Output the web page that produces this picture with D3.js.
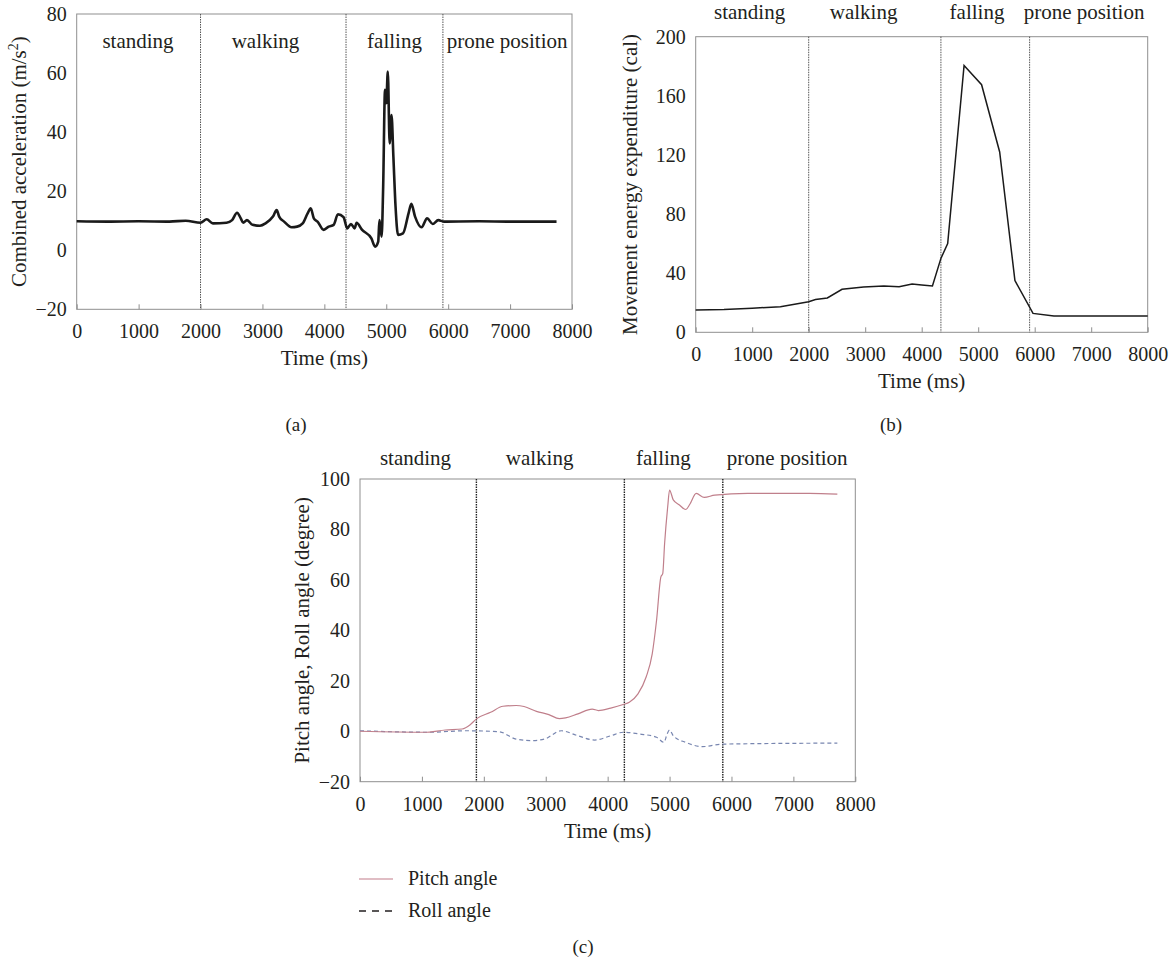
<!DOCTYPE html>
<html>
<head>
<meta charset="utf-8">
<script src="https://cdn.jsdelivr.net/npm/d3@7"></script>
<style>
    body { margin: 0; background: #fff; }
    text { font-family: "Liberation Serif", "Times New Roman", serif; fill: #231f20; }
</style>
</head>
<body>
<div id="Chart"></div>
<script>

// ---- data ----
let phaseNames = ["standing", "walking", "falling", "prone position"];
let timeTicks = [0, 1000, 2000, 3000, 4000, 5000, 6000, 7000, 8000];

// (a) combined acceleration
let accTime = [0, 500, 1000, 1500, 1760, 2000, 2100, 2200, 2420, 2510, 2590, 2650, 2690, 2750, 2840, 2960,
    3050, 3170, 3230, 3270, 3350, 3470, 3560, 3650, 3730, 3780, 3830, 3890, 3990, 4070, 4150, 4220, 4310,
    4370, 4430, 4490, 4520, 4610, 4760, 4820, 4870, 4890, 4925, 4950, 4980, 5000, 5025, 5055, 5085, 5115,
    5150, 5190, 5270, 5360, 5405, 5465, 5570, 5660, 5750, 5840, 5930, 6500, 7000, 7750];
let accValue = [9.8, 9.7, 9.8, 9.7, 10.0, 9.3, 10.5, 9.1, 9.3, 10.2, 12.7, 10.8, 9.3, 10.2, 8.6, 8.3,
    9.1, 11.4, 13.6, 11.4, 9.7, 7.8, 8.0, 9.1, 12.5, 14.2, 10.8, 9.7, 6.9, 8.0, 8.6, 12.2, 11.2,
    7.4, 8.9, 7.4, 9.3, 6.9, 4.0, 1.2, 2.9, 10.2, 4.6, 21.5, 54.3, 49.8, 60.5, 36.2, 45.8, 31.7,
    14.8, 5.2, 5.7, 12.5, 15.7, 11.4, 7.8, 10.8, 8.9, 10.2, 9.7, 9.8, 9.7, 9.7];
let accTicks = [-20, 0, 20, 40, 60, 80];
let accDividers = [2000, 4350, 5915];

// (b) movement energy expenditure
let energyTime = [0, 500, 1000, 1500, 2000, 2120, 2330, 2590, 2970, 3330, 3600, 3830, 4000, 4190, 4340,
    4460, 4750, 5060, 5380, 5650, 5970, 6340, 7000, 8000];
let energyValue = [15.1, 15.4, 16.3, 17.3, 20.7, 22.2, 23.2, 29.1, 30.6, 31.3, 30.8, 32.6, 32, 31.3, 50,
    60, 180.5, 167.5, 122, 35, 12.8, 11, 11, 11];
let energyTicks = [0, 40, 80, 120, 160, 200];
let energyDividers = [2000, 4340, 5910];

// (c) pitch and roll angle
let pitchTime = [0, 1040, 1380, 1650, 1780, 1880, 2110, 2310, 2520, 2650, 2850, 3050, 3220, 3320, 3520,
    3750, 3850, 4050, 4250, 4350, 4490, 4620, 4720, 4790, 4860, 4890, 4920, 4970, 5000, 5060, 5160,
    5260, 5330, 5430, 5560, 5730, 6260, 7260, 7710];
let pitchValue = [0, -0.4, 0.5, 0.9, 2.6, 4.9, 7.5, 9.9, 10.2, 9.8, 7.9, 6.6, 5.0, 5.3, 6.9,
    8.8, 8.2, 9.2, 10.6, 11.5, 14.8, 21.4, 30.7, 44, 61.2, 62.5, 74.4, 89, 95.6, 91.7, 89.7,
    87.9, 90.1, 94.3, 92.7, 93.6, 94.3, 94.3, 94.0];
let rollTime = [0, 1110, 1710, 2250, 2520, 2780, 2980, 3250, 3520, 3790, 4050, 4250, 4520, 4790, 4910,
    4960, 5000, 5060, 5260, 5530, 5860, 7710];
let rollValue = [0.2, -0.4, 0.2, -0.2, -3.1, -3.7, -3.1, 0.2, -1.8, -3.5, -1.8, -0.4, -1.1, -2.4, -4.4,
    -1.1, 0.5, -1.8, -4.4, -6.1, -5.1, -4.7];
let angleTicks = [-20, 0, 20, 40, 60, 80, 100];
let angleDividers = [1880, 4270, 5860];

let legendNames = ["Pitch angle", "Roll angle"];

// ---- drawing ----
let svg = d3.select("#Chart")
    .append("svg")
    .attr("width", 1174)
    .attr("height", 964);

function draw_panel(p) {
    let g = svg.append("g")
        .attr("transform", "translate(" + p.left + "," + p.top + ")");

    let x = d3.scaleLinear().domain([0, 8000]).range([0, p.width]);
    let y = d3.scaleLinear().domain([p.ticks[0], p.ticks[p.ticks.length - 1]]).range([p.height, 0]);

    g.append("rect")
        .attr("width", p.width)
        .attr("height", p.height)
        .attr("fill", "none")
        .attr("stroke", "#8f8f8f")
        .attr("stroke-width", 1);

    let xAxis = d3.axisBottom(x)
        .tickValues(timeTicks)
        .tickSizeInner(-5)
        .tickSizeOuter(0)
        .tickPadding(15)
        .tickFormat(d3.format("d"));

    let yAxis = d3.axisLeft(y)
        .tickValues(p.ticks)
        .tickSize(0)
        .tickPadding(10);

    g.append("g")
        .attr("transform", "translate(0," + p.height + ")")
        .call(xAxis)
        .call(a => a.select(".domain").remove())
        .call(a => a.selectAll("line").attr("stroke", "#8f8f8f"))
        .attr("font-size", 20)
        .attr("font-family", "Liberation Serif");

    g.append("g")
        .call(yAxis)
        .call(a => a.select(".domain").remove())
        .attr("font-size", 20)
        .attr("font-family", "Liberation Serif");

    g.selectAll(".divider")
        .data(p.dividers)
        .enter()
        .append("line")
        .attr("x1", d => x(d))
        .attr("x2", d => x(d))
        .attr("y1", 0)
        .attr("y2", p.height)
        .attr("stroke", p.dividerColor)
        .attr("stroke-width", p.dividerWidth)
        .style("stroke-dasharray", "1.5,1");

    g.selectAll(".phase")
        .data(phaseNames)
        .enter()
        .append("text")
        .attr("x", (d, i) => x(p.phaseAt[i]))
        .attr("y", p.phaseY)
        .attr("text-anchor", "middle")
        .attr("font-size", 21)
        .text(d => d);

    g.append("text")
        .attr("x", p.width / 2)
        .attr("y", p.height + 56)
        .attr("text-anchor", "middle")
        .attr("font-size", 21)
        .text("Time (ms)");

    let yt = g.append("text")
        .attr("transform", "translate(" + (-p.titleOffset) + "," + (p.height / 2) + ") rotate(-90)")
        .attr("text-anchor", "middle")
        .attr("dy", "0.32em")
        .attr("font-size", 21);
    if (p.sup) {
        yt.append("tspan").text(p.title);
        yt.append("tspan").attr("dy", -8).attr("font-size", 14).text(p.sup);
        yt.append("tspan").attr("dy", 8).text(")");
    } else {
        yt.text(p.title);
    }

    svg.append("text")
        .attr("x", p.letterX)
        .attr("y", p.letterY)
        .attr("text-anchor", "middle")
        .attr("font-size", 19)
        .text(p.letter);

    return {g: g, x: x, y: y};
}

// (a)
let pa = draw_panel({
    left: 76.7, top: 14, width: 495.3, height: 295.3,
    ticks: accTicks, dividers: accDividers, dividerColor: "#555", dividerWidth: 1,
    phaseAt: [990, 3050, 5133, 6952], phaseY: 34,
    title: "Combined acceleration (m/s", sup: "2", titleOffset: 57,
    letter: "(a)", letterX: 296, letterY: 431
});
let lineA = d3.line()
    .curve(d3.curveMonotoneX)
    .x(d => pa.x(d[0]))
    .y(d => pa.y(d[1]));
pa.g.append("path")
    .datum(d3.zip(accTime, accValue))
    .attr("d", lineA)
    .attr("fill", "none")
    .attr("stroke", "#1a1a1a")
    .attr("stroke-width", 2.6)
    .attr("stroke-linejoin", "round");

// (b)
let pb = draw_panel({
    left: 695.7, top: 36.7, width: 452, height: 295.6,
    ticks: energyTicks, dividers: energyDividers, dividerColor: "#555", dividerWidth: 1,
    phaseAt: [954, 2972, 4979, 6873], phaseY: -18,
    title: "Movement energy expenditure (cal)", titleOffset: 65,
    letter: "(b)", letterX: 891, letterY: 431
});
let lineB = d3.line().x(d => pb.x(d[0])).y(d => pb.y(d[1]));
pb.g.append("path")
    .datum(d3.zip(energyTime, energyValue))
    .attr("d", lineB)
    .attr("fill", "none")
    .attr("stroke", "#1a1a1a")
    .attr("stroke-width", 1.5);

// (c)
let pc = draw_panel({
    left: 360, top: 479, width: 495.3, height: 302.7,
    ticks: angleTicks, dividers: angleDividers, dividerColor: "#222", dividerWidth: 1.4,
    phaseAt: [896, 2901, 4901, 6900], phaseY: -14.5,
    title: "Pitch angle, Roll angle (degree)", titleOffset: 58,
    letter: "(c)", letterX: 583, letterY: 953
});
let lineC = d3.line()
    .curve(d3.curveMonotoneX)
    .x(d => pc.x(d[0]))
    .y(d => pc.y(d[1]));
pc.g.append("path")
    .datum(d3.zip(rollTime, rollValue))
    .attr("d", lineC)
    .attr("fill", "none")
    .attr("stroke", "#7886b0")
    .attr("stroke-width", 1.2)
    .style("stroke-dasharray", "4,3");
pc.g.append("path")
    .datum(d3.zip(pitchTime, pitchValue))
    .attr("d", lineC)
    .attr("fill", "none")
    .attr("stroke", "#c07f8b")
    .attr("stroke-width", 1.2);

// legend
let legend = svg.append("g").attr("transform", "translate(359,879)");
legend.append("line")
    .attr("x1", 0).attr("x2", 34).attr("y1", 0).attr("y2", 0)
    .attr("stroke", "#d6a7b0")
    .attr("stroke-width", 1.5);
legend.append("line")
    .attr("x1", 0).attr("x2", 34).attr("y1", 32).attr("y2", 32)
    .attr("stroke", "#231f20")
    .attr("stroke-width", 1.3)
    .style("stroke-dasharray", "7,6");
legend.selectAll(".legend")
    .data(legendNames)
    .enter()
    .append("text")
    .attr("x", 49)
    .attr("y", (d, i) => i * 32 + 6)
    .attr("font-size", 20)
    .text(d => d);

</script>
</body>
</html>
